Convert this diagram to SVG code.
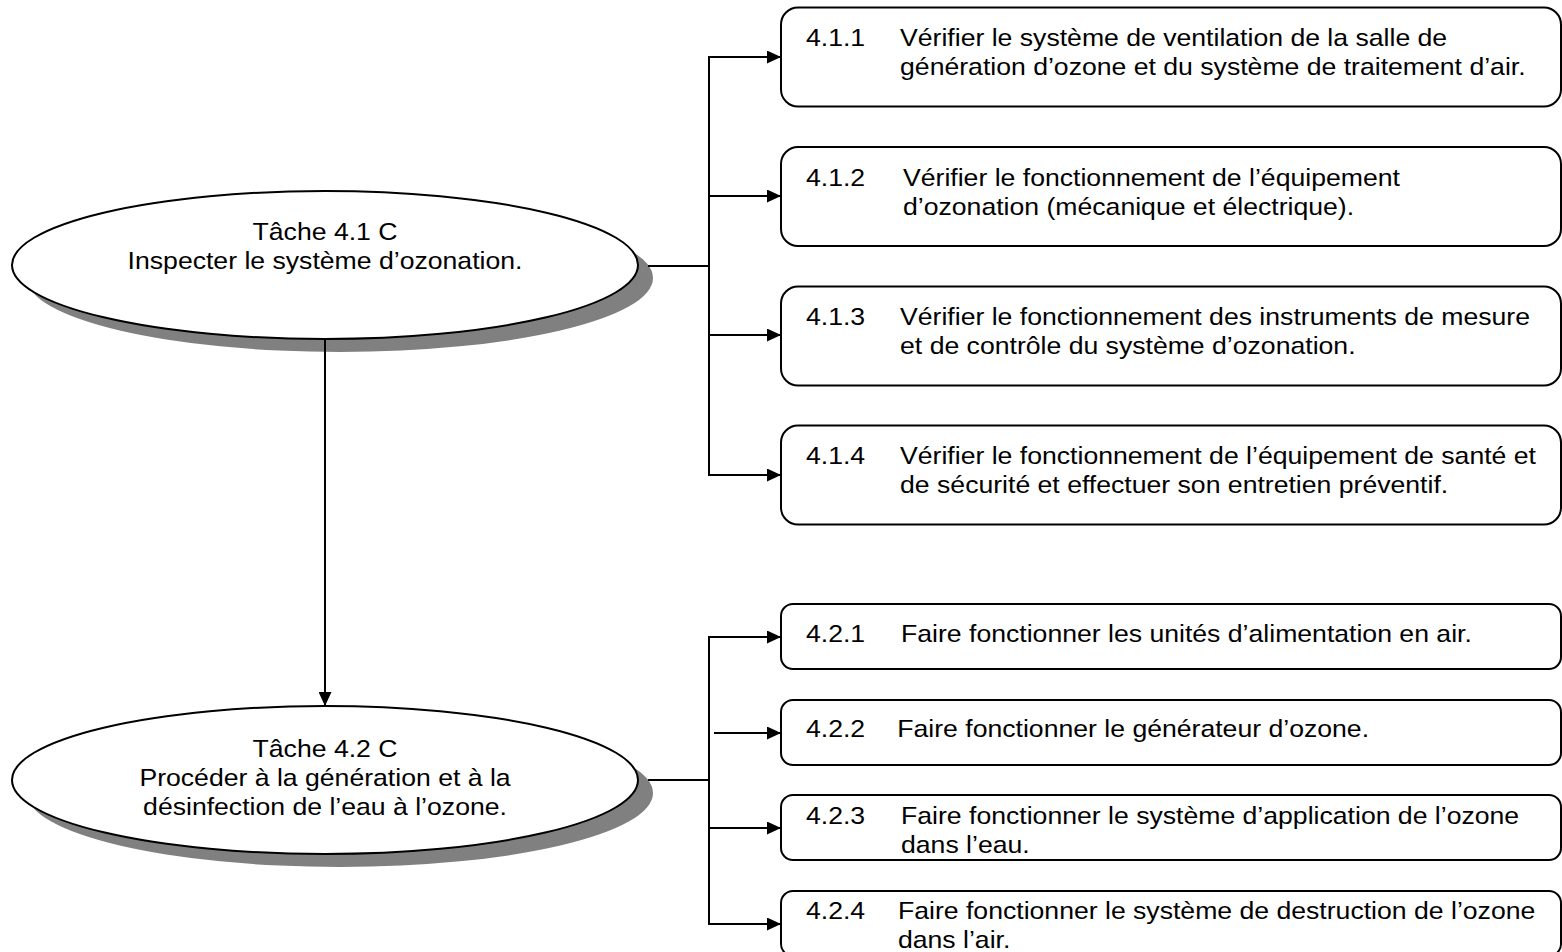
<svg xmlns="http://www.w3.org/2000/svg" width="1562" height="952" viewBox="0 0 1562 952">
<defs>
<marker id="ah" markerUnits="userSpaceOnUse" markerWidth="14" markerHeight="13" refX="14" refY="6.5" orient="auto"><path d="M0,0 L14,6.5 L0,13 Z" fill="#000"/></marker>
</defs>
<style>
.t{font-family:"Liberation Sans",Arial,sans-serif;font-size:24.2px;fill:#000}
.c{text-anchor:middle}
.box{fill:#fff;stroke:#000;stroke-width:2}
.ell{fill:#fff;stroke:#000;stroke-width:2}
.sh{fill:#808080}
.ln{fill:none;stroke:#000;stroke-width:2}
</style>
<rect width="1562" height="952" fill="#fff"/>

<g id="task41">
<ellipse class="sh" cx="340" cy="278" rx="313" ry="74"/>
<ellipse class="ell" cx="325" cy="265" rx="313" ry="74"/>
<text class="t c" transform="matrix(1.1 0 0 1 325 0)"><tspan x="0" y="240">Tâche 4.1 C</tspan><tspan x="0" y="269">Inspecter le système d’ozonation.</tspan></text>
</g>

<g id="task42">
<ellipse class="sh" cx="340" cy="793" rx="313" ry="74"/>
<ellipse class="ell" cx="325" cy="780" rx="313" ry="74"/>
<text class="t c" transform="matrix(1.1 0 0 1 325 0)"><tspan x="0" y="757">Tâche 4.2 C</tspan><tspan x="0" y="786">Procéder à la génération et à la</tspan><tspan x="0" y="815">désinfection de l’eau à l’ozone.</tspan></text>
</g>

<g id="n411">
<rect class="box" x="781" y="7.5" width="780" height="99" rx="17"/>
<text class="t" transform="matrix(1.1 0 0 1 806 0)"><tspan x="0" y="46.5">4.1.1</tspan><tspan x="85.5" y="46.5">Vérifier le système de ventilation de la salle de</tspan><tspan x="85.5" y="75.5">génération d’ozone et du système de traitement d’air.</tspan></text>
</g>
<g id="n412">
<rect class="box" x="781" y="147" width="780" height="99" rx="17"/>
<text class="t" transform="matrix(1.1 0 0 1 806 0)"><tspan x="0" y="186">4.1.2</tspan><tspan x="88.2" y="186">Vérifier le fonctionnement de l’équipement</tspan><tspan x="88.2" y="215">d’ozonation (mécanique et électrique).</tspan></text>
</g>
<g id="n413">
<rect class="box" x="781" y="286.5" width="780" height="99" rx="17"/>
<text class="t" transform="matrix(1.1 0 0 1 806 0)"><tspan x="0" y="325.5">4.1.3</tspan><tspan x="85.5" y="325.5">Vérifier le fonctionnement des instruments de mesure</tspan><tspan x="85.5" y="354.5">et de contrôle du système d’ozonation.</tspan></text>
</g>
<g id="n414">
<rect class="box" x="781" y="425.5" width="780" height="99" rx="17"/>
<text class="t" transform="matrix(1.1 0 0 1 806 0)"><tspan x="0" y="464.5">4.1.4</tspan><tspan x="85.5" y="464.5">Vérifier le fonctionnement de l’équipement de santé et</tspan><tspan x="85.5" y="493.5">de sécurité et effectuer son entretien préventif.</tspan></text>
</g>

<g id="n421">
<rect class="box" x="781" y="604" width="780" height="65" rx="12"/>
<text class="t" transform="matrix(1.1 0 0 1 806 0)"><tspan x="0" y="642">4.2.1</tspan><tspan x="86.4" y="642">Faire fonctionner les unités d’alimentation en air.</tspan></text>
</g>
<g id="n422">
<rect class="box" x="781" y="700" width="780" height="65" rx="12"/>
<text class="t" transform="matrix(1.1 0 0 1 806 0)"><tspan x="0" y="737">4.2.2</tspan><tspan x="83" y="737">Faire fonctionner le générateur d’ozone.</tspan></text>
</g>
<g id="n423">
<rect class="box" x="781" y="795" width="780" height="65" rx="12"/>
<text class="t" transform="matrix(1.1 0 0 1 806 0)"><tspan x="0" y="824">4.2.3</tspan><tspan x="86.4" y="824">Faire fonctionner le système d’application de l’ozone</tspan><tspan x="86.4" y="853">dans l’eau.</tspan></text>
</g>
<g id="n424">
<rect class="box" x="781" y="891" width="780" height="65" rx="12"/>
<text class="t" transform="matrix(1.1 0 0 1 806 0)"><tspan x="0" y="919">4.2.4</tspan><tspan x="83.6" y="919">Faire fonctionner le système de destruction de l’ozone</tspan><tspan x="83.6" y="948">dans l’air.</tspan></text>
</g>

<g id="connectors">
<line class="ln" x1="648" y1="266" x2="709" y2="266"/>
<line class="ln" x1="709" y1="56" x2="709" y2="476"/>
<line class="ln" x1="708" y1="57" x2="781" y2="57" marker-end="url(#ah)"/>
<line class="ln" x1="709" y1="196" x2="781" y2="196" marker-end="url(#ah)"/>
<line class="ln" x1="709" y1="335" x2="781" y2="335" marker-end="url(#ah)"/>
<line class="ln" x1="708" y1="475" x2="781" y2="475" marker-end="url(#ah)"/>
<line class="ln" x1="325" y1="339" x2="325" y2="706" marker-end="url(#ah)"/>
<line class="ln" x1="648" y1="780" x2="709" y2="780"/>
<line class="ln" x1="709" y1="636" x2="709" y2="925"/>
<line class="ln" x1="708" y1="637" x2="781" y2="637" marker-end="url(#ah)"/>
<line class="ln" x1="714" y1="733" x2="781" y2="733" marker-end="url(#ah)"/>
<line class="ln" x1="709" y1="828" x2="781" y2="828" marker-end="url(#ah)"/>
<line class="ln" x1="708" y1="924" x2="781" y2="924" marker-end="url(#ah)"/>
</g>
</svg>
